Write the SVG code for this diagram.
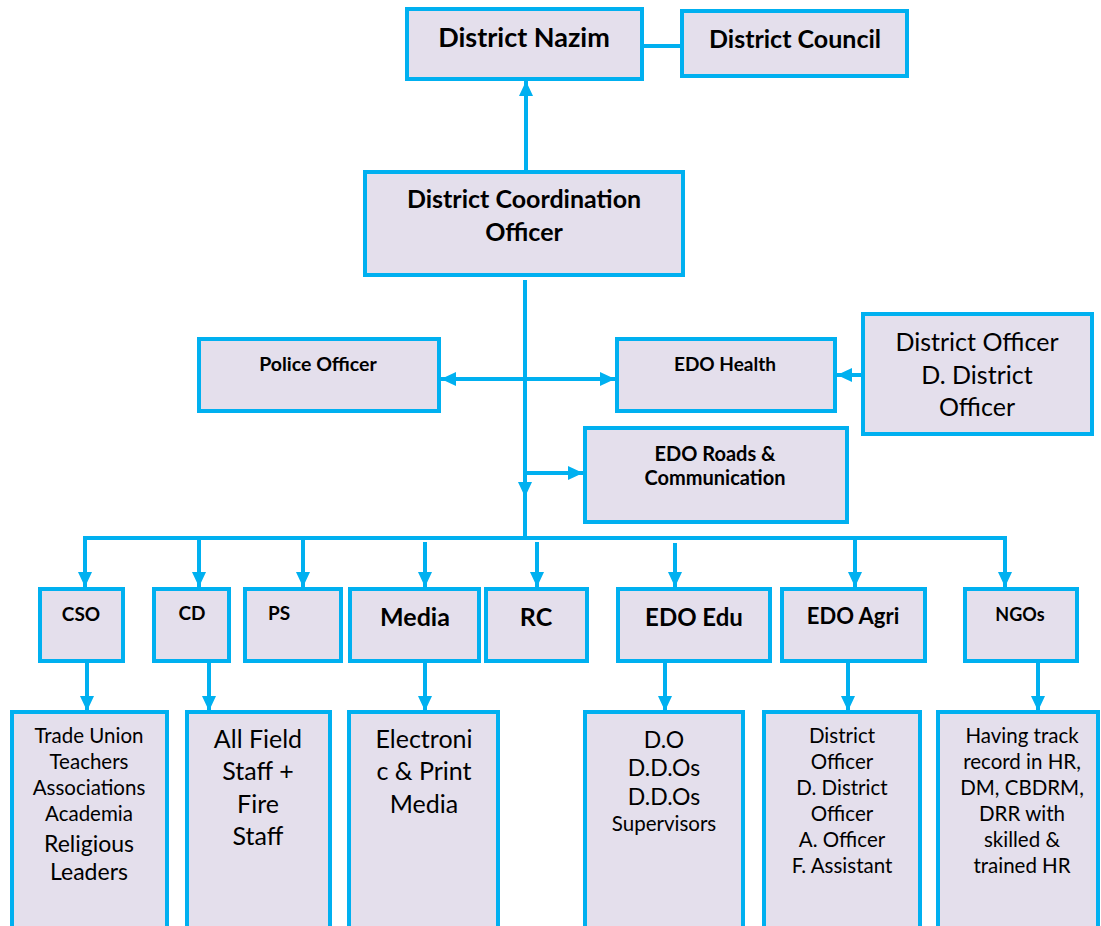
<svg xmlns="http://www.w3.org/2000/svg" width="1101" height="926" viewBox="0 0 1101 926">
<defs>
<style>
.box{fill:#E4DFEC;stroke:#00B0F0;stroke-width:4}
.ln{fill:none;stroke:#00B0F0;stroke-width:4}
text{font-family:Lato,"Open Sans",sans-serif;fill:#000;text-anchor:middle}
.b{font-weight:bold}
</style>
<marker id="ah" markerUnits="userSpaceOnUse" markerWidth="16" markerHeight="16" viewBox="0 0 16 16" refX="15" refY="8" orient="auto-start-reverse">
<path d="M0,1 L15,8 L0,15 z" fill="#00B0F0"/>
</marker>
</defs>
<rect width="1101" height="926" fill="#fff"/>
<g id="connectors">
<line class="ln" x1="526" y1="172" x2="526" y2="81" marker-end="url(#ah)"/>
<line class="ln" x1="642" y1="46" x2="682" y2="46"/>
<line class="ln" x1="525" y1="280" x2="525" y2="497" marker-end="url(#ah)"/>
<line class="ln" x1="525" y1="495" x2="525" y2="538"/>
<line class="ln" x1="441" y1="379" x2="615" y2="379" marker-start="url(#ah)" marker-end="url(#ah)"/>
<line class="ln" x1="863" y1="375" x2="837" y2="375" marker-end="url(#ah)"/>
<line class="ln" x1="525" y1="473" x2="583" y2="473" marker-end="url(#ah)"/>
<path class="ln" d="M85,560 V538 H1005 V560"/>
<line class="ln" x1="85" y1="538" x2="85" y2="587" marker-end="url(#ah)"/>
<line class="ln" x1="199" y1="538" x2="199" y2="587" marker-end="url(#ah)"/>
<line class="ln" x1="303" y1="538" x2="303" y2="587" marker-end="url(#ah)"/>
<line class="ln" x1="425" y1="542" x2="425" y2="587" marker-end="url(#ah)"/>
<line class="ln" x1="537" y1="542" x2="537" y2="587" marker-end="url(#ah)"/>
<line class="ln" x1="675" y1="543" x2="675" y2="587" marker-end="url(#ah)"/>
<line class="ln" x1="855" y1="538" x2="855" y2="587" marker-end="url(#ah)"/>
<line class="ln" x1="1005" y1="538" x2="1005" y2="587" marker-end="url(#ah)"/>
<line class="ln" x1="87" y1="662" x2="87" y2="711" marker-end="url(#ah)"/>
<line class="ln" x1="209" y1="662" x2="209" y2="711" marker-end="url(#ah)"/>
<line class="ln" x1="425" y1="662" x2="425" y2="711" marker-end="url(#ah)"/>
<line class="ln" x1="665" y1="662" x2="665" y2="711" marker-end="url(#ah)"/>
<line class="ln" x1="848" y1="662" x2="848" y2="711" marker-end="url(#ah)"/>
<line class="ln" x1="1038" y1="662" x2="1038" y2="711" marker-end="url(#ah)"/>
</g>
<g id="nazim"><rect class="box" x="407" y="9" width="235" height="70"/><text class="b" x="524" y="47" font-size="27">District Nazim</text></g>
<g id="council"><rect class="box" x="682" y="11" width="225" height="65"/><text class="b" x="795" y="48" font-size="25">District Council</text></g>
<g id="dco"><rect class="box" x="365" y="172" width="318" height="103"/><text class="b" x="524" y="208" font-size="25">District Coordination</text><text class="b" x="524" y="241" font-size="25">Officer</text></g>
<g id="police"><rect class="box" x="199" y="339" width="240" height="72"/><text class="b" x="318" y="371" font-size="19.5">Police Officer</text></g>
<g id="edohealth"><rect class="box" x="617" y="339" width="218" height="72"/><text class="b" x="725" y="371" font-size="19">EDO Health</text></g>
<g id="distofficer"><rect class="box" x="863" y="314" width="229" height="120"/><text x="977" y="351" font-size="25">District Officer</text><text x="977" y="384" font-size="25">D. District</text><text x="977" y="416" font-size="25">Officer</text></g>
<g id="edoroads"><rect class="box" x="585" y="428" width="262" height="94"/><text class="b" x="715" y="461" font-size="20">EDO Roads &amp;</text><text class="b" x="715" y="485" font-size="20">Communication</text></g>
<g id="cso"><rect class="box" x="40" y="589" width="83" height="72"/><text class="b" x="81" y="621" font-size="19">CSO</text></g>
<g id="cd"><rect class="box" x="154" y="589" width="75" height="72"/><text class="b" x="192" y="620" font-size="19">CD</text></g>
<g id="ps"><rect class="box" x="245" y="589" width="96" height="72"/><text class="b" x="279" y="620" font-size="19">PS</text></g>
<g id="media"><rect class="box" x="350" y="589" width="129" height="72"/><text class="b" x="415" y="626" font-size="25">Media</text></g>
<g id="rc"><rect class="box" x="486" y="589" width="101" height="72"/><text class="b" x="536" y="626" font-size="25">RC</text></g>
<g id="edoedu"><rect class="box" x="618" y="589" width="152" height="72"/><text class="b" x="694" y="626" font-size="24">EDO Edu</text></g>
<g id="edoagri"><rect class="box" x="782" y="589" width="143" height="72"/><text class="b" x="853" y="624" font-size="22">EDO Agri</text></g>
<g id="ngos"><rect class="box" x="965" y="589" width="112" height="72"/><text class="b" x="1020" y="621" font-size="18">NGOs</text></g>
<g id="csolist"><rect class="box" x="12" y="712" width="155" height="220"/>
<text x="89" y="743" font-size="20.5">Trade Union</text><text x="89" y="769" font-size="20.5">Teachers</text><text x="89" y="795" font-size="20.5">Associations</text><text x="89" y="821" font-size="20.5">Academia</text><text x="89" y="852" font-size="23">Religious</text><text x="89" y="880" font-size="23">Leaders</text></g>
<g id="cdlist"><rect class="box" x="187" y="712" width="143" height="220"/>
<text x="258" y="748" font-size="25">All Field</text><text x="258" y="780" font-size="25">Staff +</text><text x="258" y="813" font-size="25">Fire</text><text x="258" y="845" font-size="25">Staff</text></g>
<g id="medialist"><rect class="box" x="349" y="712" width="149" height="220"/>
<text x="424" y="748" font-size="25">Electroni</text><text x="424" y="780" font-size="25">c &amp; Print</text><text x="424" y="813" font-size="25">Media</text></g>
<g id="edulist"><rect class="box" x="585" y="712" width="158" height="220"/>
<text x="664" y="748" font-size="23">D.O</text><text x="664" y="776" font-size="23">D.D.Os</text><text x="664" y="805" font-size="23">D.D.Os</text><text x="664" y="831" font-size="20.5">Supervisors</text></g>
<g id="agrilist"><rect class="box" x="764" y="712" width="156" height="220"/>
<text x="842" y="743" font-size="20.5">District</text><text x="842" y="769" font-size="20.5">Officer</text><text x="842" y="795" font-size="20.5">D. District</text><text x="842" y="821" font-size="20.5">Officer</text><text x="842" y="847" font-size="20.5">A. Officer</text><text x="842" y="873" font-size="20.5">F. Assistant</text></g>
<g id="ngolist"><rect class="box" x="938" y="712" width="160" height="220"/>
<text x="1022" y="743" font-size="20.5">Having track</text><text x="1022" y="769" font-size="20.5">record in HR,</text><text x="1022" y="795" font-size="20.5">DM, CBDRM,</text><text x="1022" y="821" font-size="20.5">DRR with</text><text x="1022" y="847" font-size="20.5">skilled &amp;</text><text x="1022" y="873" font-size="20.5">trained HR</text></g>
</svg>
